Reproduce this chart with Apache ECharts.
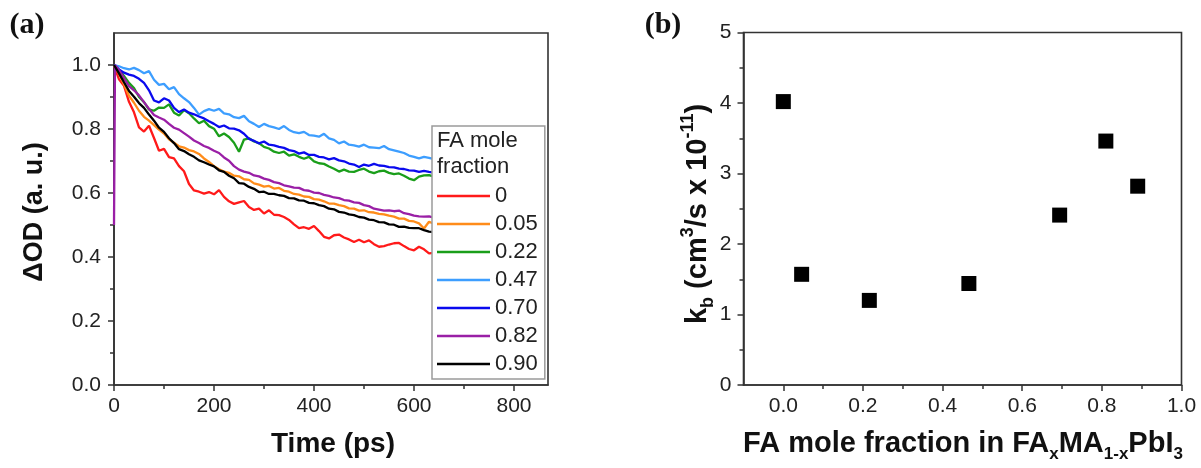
<!DOCTYPE html>
<html><head><meta charset="utf-8">
<script src="https://cdn.jsdelivr.net/npm/echarts@6/dist/echarts.min.js"></script>
<style>html,body{margin:0;padding:0;background:#fff}#c{width:1201px;height:468px}</style>
</head><body><div id="c"></div>
<script>
// ---------- Panel (a): transient absorption decays ----------
const timePs = [0,2,10,20,30,40,50,60,70,80,90,100,110,120,130,140,150,160,170,180,190,200,
  210,220,230,240,250,260,270,280,290,300,310,320,330,340,350,360,370,380,390,400,
  410,420,430,440,450,460,470,480,490,500,510,520,530,540,550,560,570,580,590,600,
  610,620,630,640,650,660,670,680,690,700,710,720,730,740,750,760,770,780,790,800,
  810,820,830,840,850,860];

const seriesNames = ['0','0.05','0.22','0.47','0.70','0.82','0.90'];

const od_0 = [1.0,1.0,
  0.955,0.935,0.885,0.852,0.805,0.792,0.81,0.772,0.732,0.738,
  0.712,0.708,0.684,0.668,0.628,0.608,0.604,0.598,0.603,0.596,
  0.609,0.588,0.574,0.566,0.571,0.575,0.556,0.547,0.551,0.536,
  0.546,0.532,0.531,0.525,0.516,0.502,0.49,0.493,0.488,0.497,
  0.481,0.463,0.458,0.468,0.47,0.461,0.455,0.447,0.454,0.446,
  0.452,0.44,0.432,0.434,0.439,0.443,0.444,0.434,0.425,0.421,
  0.432,0.424,0.411,0.413,0.406,0.405,0.41,0.401,0.398,0.402,
  0.394,0.39,0.394,0.385,0.389,0.381,0.38,0.385,0.376,0.374,
  0.378,0.37,0.369,0.366,0.364,0.362];
const od_005 = [1.0,1.0,
  0.972,0.94,0.904,0.882,0.857,0.838,0.826,0.812,0.798,0.786,
  0.768,0.757,0.746,0.742,0.734,0.73,0.722,0.708,0.697,0.684,
  0.674,0.667,0.663,0.654,0.652,0.643,0.641,0.63,0.626,0.62,
  0.622,0.614,0.616,0.607,0.604,0.597,0.595,0.589,0.588,0.581,
  0.579,0.574,0.567,0.567,0.562,0.559,0.552,0.551,0.545,0.546,
  0.54,0.539,0.535,0.533,0.529,0.526,0.52,0.52,0.513,0.511,
  0.505,0.489,0.51,0.504,0.501,0.496,0.495,0.491,0.489,0.485,
  0.485,0.48,0.479,0.476,0.474,0.471,0.469,0.466,0.465,0.462,
  0.461,0.458,0.457,0.455,0.454,0.452];
const od_022 = [1.0,1.0,
  0.985,0.966,0.944,0.928,0.9,0.884,0.861,0.857,0.867,0.866,
  0.877,0.851,0.842,0.859,0.849,0.833,0.818,0.826,0.809,0.801,
  0.777,0.786,0.775,0.757,0.729,0.767,0.771,0.761,0.756,0.744,
  0.739,0.729,0.725,0.729,0.717,0.721,0.713,0.707,0.713,0.699,
  0.693,0.691,0.683,0.676,0.667,0.673,0.667,0.666,0.672,0.676,
  0.667,0.662,0.668,0.67,0.663,0.659,0.661,0.654,0.645,0.64,
  0.651,0.655,0.656,0.651,0.649,0.644,0.643,0.639,0.638,0.635,
  0.635,0.631,0.63,0.627,0.628,0.624,0.623,0.621,0.62,0.618,
  0.617,0.615,0.614,0.612,0.611,0.61];
const od_047 = [1.0,1.0,
  0.996,0.99,0.986,0.991,0.984,0.974,0.981,0.954,0.938,0.941,
  0.924,0.931,0.909,0.896,0.884,0.866,0.845,0.856,0.862,0.857,
  0.863,0.849,0.846,0.837,0.834,0.841,0.824,0.816,0.806,0.816,
  0.809,0.805,0.8,0.809,0.797,0.79,0.787,0.791,0.781,0.779,
  0.776,0.785,0.771,0.766,0.755,0.761,0.751,0.749,0.745,0.751,
  0.743,0.742,0.74,0.747,0.737,0.733,0.729,0.725,0.717,0.713,
  0.708,0.713,0.71,0.706,0.704,0.7,0.699,0.696,0.694,0.691,
  0.689,0.686,0.685,0.682,0.68,0.678,0.675,0.674,0.671,0.669,
  0.667,0.665,0.663,0.661,0.659,0.657];
const od_070 = [1.0,1.0,
  0.986,0.976,0.97,0.966,0.957,0.944,0.921,0.889,0.883,0.896,
  0.889,0.866,0.853,0.861,0.851,0.846,0.839,0.833,0.824,0.816,
  0.806,0.811,0.802,0.801,0.796,0.785,0.769,0.763,0.755,0.761,
  0.751,0.749,0.744,0.741,0.734,0.731,0.723,0.727,0.719,0.719,
  0.713,0.711,0.705,0.709,0.702,0.699,0.692,0.689,0.681,0.689,
  0.685,0.691,0.686,0.685,0.681,0.68,0.676,0.675,0.671,0.67,
  0.666,0.669,0.666,0.664,0.661,0.659,0.656,0.654,0.652,0.649,
  0.647,0.645,0.642,0.64,0.638,0.636,0.634,0.632,0.63,0.628,
  0.626,0.624,0.622,0.62,0.618,0.616];
const od_082 = [0.5,1.0,
  0.984,0.959,0.934,0.921,0.905,0.884,0.863,0.844,0.836,0.829,
  0.816,0.804,0.798,0.787,0.776,0.764,0.756,0.747,0.741,0.732,
  0.725,0.711,0.701,0.684,0.673,0.667,0.663,0.655,0.652,0.645,
  0.641,0.634,0.631,0.624,0.621,0.617,0.616,0.609,0.607,0.601,
  0.6,0.594,0.591,0.586,0.584,0.578,0.576,0.571,0.569,0.562,
  0.559,0.551,0.548,0.545,0.546,0.543,0.545,0.537,0.534,0.529,
  0.527,0.526,0.527,0.523,0.521,0.519,0.517,0.515,0.513,0.511,
  0.51,0.508,0.506,0.505,0.503,0.502,0.5,0.499,0.497,0.496,
  0.495,0.494,0.493,0.492,0.491,0.49];
const od_090 = [1.0,1.0,
  0.974,0.946,0.919,0.901,0.881,0.866,0.845,0.826,0.804,0.791,
  0.771,0.756,0.737,0.731,0.721,0.713,0.702,0.696,0.689,0.683,
  0.671,0.666,0.654,0.646,0.631,0.629,0.619,0.613,0.603,0.604,
  0.597,0.597,0.593,0.591,0.584,0.583,0.577,0.576,0.569,0.568,
  0.562,0.559,0.551,0.549,0.541,0.539,0.533,0.531,0.525,0.523,
  0.517,0.515,0.509,0.508,0.502,0.501,0.494,0.495,0.491,0.49,
  0.49,0.484,0.479,0.478,0.475,0.473,0.47,0.468,0.466,0.464,
  0.462,0.46,0.458,0.456,0.454,0.452,0.45,0.448,0.446,0.444,
  0.442,0.44,0.438,0.436,0.434,0.432];

const lineColors = ['#ff1a1a','#ff8c1a','#1a9e1a','#3d9eff','#0a0aee','#9a1fa6','#000000'];

const timeMajorTicks = [0,200,400,600,800];
const timeMinorTicks = [100,300,500,700];
const odMajorTicks = [0,0.2,0.4,0.6,0.8,1.0];
const odMinorTicks = [0.1,0.3,0.5,0.7,0.9];

// ---------- Panel (b): bimolecular recombination constant ----------
const faFraction = [0.0, 0.046, 0.216, 0.466, 0.694, 0.81, 0.89];
const kbValues   = [4.02, 1.57, 1.20, 1.44, 2.41, 3.46, 2.82];
const faMajorTicks = [0,0.2,0.4,0.6,0.8,1.0];
const faMinorTicks = [0.1,0.3,0.5,0.7,0.9];
const kbMajorTicks = [0,1,2,3,4,5];
const kbMinorTicks = [0.5,1.5,2.5,3.5,4.5];

const FONT = 'Liberation Sans, Arial, sans-serif';
const AX = '#333';
const TXT = '#222';

function majorAxis(gridIndex, pos, min, max, interval, ticks, fmt, margin) {
  return {
    type: 'value', gridIndex, position: pos, min, max, interval,
    axisLine: { show: true, onZero: false, lineStyle: { color: AX, width: 1.6 } },
    axisTick: { show: true, inside: false, length: 6, customValues: ticks, lineStyle: { color: AX, width: 1.5 } },
    axisLabel: { show: true, customValues: ticks, formatter: fmt, margin, color: TXT, fontSize: 21, fontFamily: FONT },
    splitLine: { show: false }
  };
}
function minorAxis(gridIndex, pos, min, max, interval, ticks) {
  return {
    type: 'value', gridIndex, position: pos, min, max, interval,
    axisLine: { show: false, onZero: false },
    axisTick: { show: true, inside: false, length: 4, customValues: ticks, lineStyle: { color: AX, width: 1.5 } },
    axisLabel: { show: false },
    splitLine: { show: false }
  };
}

const odSeries = [od_0, od_005, od_022, od_047, od_070, od_082, od_090];
const series = odSeries.map((vals, i) => ({
  name: seriesNames[i], type: 'line', xAxisIndex: 0, yAxisIndex: 0,
  symbol: 'none', showSymbol: false, clip: true,
  lineStyle: { color: lineColors[i], width: 2.3 },
  itemStyle: { color: lineColors[i] },
  data: timePs.map((t, k) => [t, vals[k]])
}));
series.push({
  name: 'kb', type: 'scatter', xAxisIndex: 2, yAxisIndex: 2,
  symbol: 'rect', symbolSize: 15, itemStyle: { color: '#000', opacity: 1 },
  data: faFraction.map((x, k) => [x, kbValues[k]])
});

const chart = echarts.init(document.getElementById('c'), null, { renderer: 'canvas' });
chart.setOption({
  animation: false,
  backgroundColor: '#fff',
  grid: [
    { left: 114, top: 33, width: 434, height: 352, show: true, borderColor: AX, borderWidth: 1.6, backgroundColor: 'transparent' },
    { left: 743.5, top: 32.5, width: 438, height: 352.5, show: true, borderColor: AX, borderWidth: 1.6, backgroundColor: 'transparent' }
  ],
  xAxis: [
    majorAxis(0, 'bottom', 0, 868, 100, timeMajorTicks, v => String(v), 11),
    minorAxis(0, 'bottom', 0, 868, 100, timeMinorTicks),
    majorAxis(1, 'bottom', -0.1, 1.0, 0.1, faMajorTicks, v => v.toFixed(1), 11),
    minorAxis(1, 'bottom', -0.1, 1.0, 0.1, faMinorTicks)
  ],
  yAxis: [
    majorAxis(0, 'left', 0, 1.1, 0.1, odMajorTicks, v => v.toFixed(1), 13),
    minorAxis(0, 'left', 0, 1.1, 0.1, odMinorTicks),
    majorAxis(1, 'left', 0, 5, 1, kbMajorTicks, v => String(v), 12),
    minorAxis(1, 'left', 0, 5, 1, kbMinorTicks)
  ],
  legend: {
    data: seriesNames.map((n, i) => ({ name: n, itemStyle: { color: lineColors[i] } })),
    left: 432, top: 126, orient: 'vertical',
    padding: [59, 7, 4, 5],
    icon: 'rect', itemWidth: 53, itemHeight: 2.5, itemGap: 6,
    backgroundColor: '#fff', borderColor: '#9a9a9a', borderWidth: 1.5, borderRadius: 0,
    textStyle: { fontSize: 22, color: TXT, fontFamily: FONT },
    selectedMode: false
  },
  series,
  graphic: [
    { type: 'text', left: 437, top: 128, z: 100,
      style: { text: 'FA mole\nfraction', fontSize: 22, lineHeight: 26, fontFamily: FONT, fill: TXT } },
    { type: 'text', x: 27, y: 25, z: 100,
      style: { text: '(a)', fontSize: 30, fontWeight: 'bold', fontFamily: 'Liberation Serif, Times New Roman, serif', fill: '#111', align: 'center', verticalAlign: 'middle' } },
    { type: 'text', x: 663, y: 25, z: 100,
      style: { text: '(b)', fontSize: 30, fontWeight: 'bold', fontFamily: 'Liberation Serif, Times New Roman, serif', fill: '#111', align: 'center', verticalAlign: 'middle' } },
    { type: 'text', x: 35, y: 212, rotation: Math.PI / 2, z: 100,
      style: { text: 'ΔOD (a. u.)', fontSize: 27, fontWeight: 'bold', fontFamily: FONT, fill: '#111', align: 'center', verticalAlign: 'middle' } },
    { type: 'text', x: 333, y: 444, z: 100,
      style: { text: 'Time (ps)', fontSize: 28, fontWeight: 'bold', fontFamily: FONT, fill: '#111', align: 'center', verticalAlign: 'middle' } },
    { type: 'text', x: 698, y: 214, rotation: Math.PI / 2, z: 100,
      style: {
        text: '{n|k}{sub|b}{n| (cm}{sup|3}{n|/s x 10}{sup|-11}{n|)}',
        align: 'center', verticalAlign: 'middle',
        rich: {
          n: { fontSize: 29, fontWeight: 'bold', fontFamily: FONT, fill: '#111', lineHeight: 38, verticalAlign: 'middle' },
          sup: { fontSize: 18, fontWeight: 'bold', fontFamily: FONT, fill: '#111', lineHeight: 38, verticalAlign: 'top' },
          sub: { fontSize: 18, fontWeight: 'bold', fontFamily: FONT, fill: '#111', lineHeight: 38, verticalAlign: 'bottom' }
        }
      } },
    { type: 'text', x: 963, y: 444, z: 100,
      style: {
        text: '{n|FA mole fraction in FA}{sub|x}{n|MA}{sub|1-x}{n|PbI}{sub|3}',
        align: 'center', verticalAlign: 'middle',
        rich: {
          n: { fontSize: 29, fontWeight: 'bold', fontFamily: FONT, fill: '#111', lineHeight: 38, verticalAlign: 'middle' },
          sub: { fontSize: 17, fontWeight: 'bold', fontFamily: FONT, fill: '#111', lineHeight: 38, verticalAlign: 'bottom' }
        }
      } }
  ]
});
</script>
</body></html>
